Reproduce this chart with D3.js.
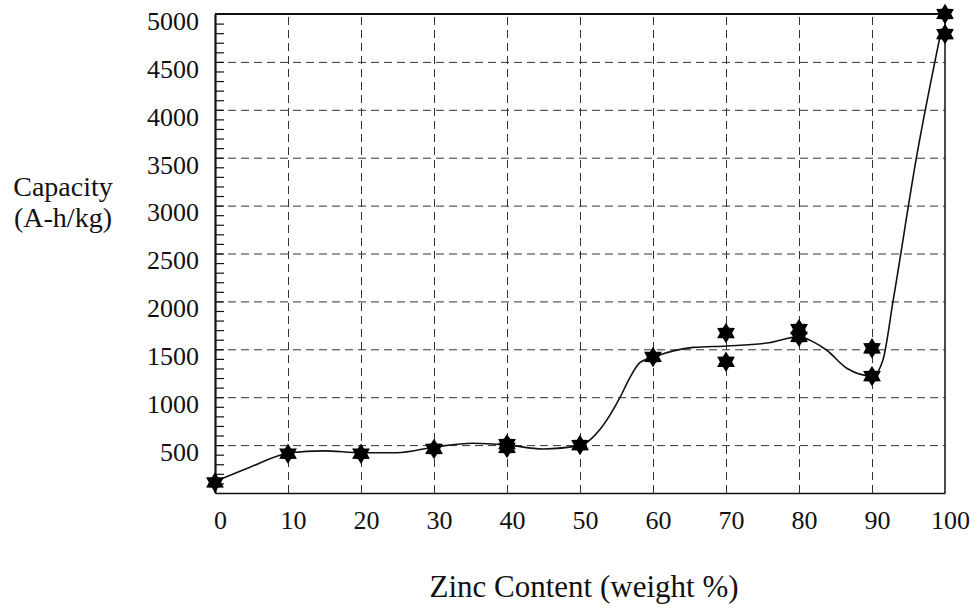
<!DOCTYPE html>
<html>
<head>
<meta charset="utf-8">
<script src="https://cdn.jsdelivr.net/npm/d3@7"></script>
<style>
  body { margin: 0; background: #fff; }
  text { font-family: "Liberation Serif", "Times New Roman", serif; fill: #111; }
</style>
</head>
<body>
<div class="chart"></div>
<script>
// measured points (several runs at some compositions)
const zinc = [0, 10, 20, 30, 40, 40, 50, 60, 70, 70, 80, 80, 90, 90, 100, 100];
const capacity = [110, 410, 410, 460, 510, 470, 500, 1420, 1670, 1370, 1710, 1630, 1510, 1220, 5000, 4790];

// hand-drawn fit line
const fitZinc = [0, 4.8, 10.3, 14.8, 20.1, 24.9, 30.1, 35.3, 40.1, 44.9, 50.1, 53, 55.5, 56.8, 58.2, 60.1, 65.5, 70.1, 75.6, 80, 81.9, 83.8, 86.6, 90.1, 91.5, 92.9, 96.2, 99.3];
const fitCapacity = [120, 270, 420, 440, 420, 420, 480, 520, 500, 460, 500, 690, 1000, 1200, 1360, 1420, 1520, 1535, 1565, 1630, 1580, 1490, 1300, 1220, 1390, 2010, 3550, 4760];

const xTicks = [0, 10, 20, 30, 40, 50, 60, 70, 80, 90, 100];
const yTicks = [500, 1000, 1500, 2000, 2500, 3000, 3500, 4000, 4500, 5000];

const margin = { top: 14, right: 26, bottom: 118, left: 215 };
const width = 971 - margin.left - margin.right;
const height = 611 - margin.top - margin.bottom;

const root = d3.select('.chart')
  .append('svg')
  .attr('width', 971)
  .attr('height', 611);

const svg = root.append('g')
  .attr('transform', `translate(${margin.left}, ${margin.top})`);

const xScale = d3.scaleLinear().domain([0, 100]).range([0, width]);
const yScale = d3.scaleLinear().domain([0, 5000]).range([height, 0]);

// dashed grid
svg.append('g')
  .attr('class', 'grid')
  .call(d3.axisLeft(yScale).tickValues(yTicks.slice(0, -1)).tickSize(-width).tickFormat(''))
  .call(g => g.select('.domain').remove());
svg.append('g')
  .attr('class', 'grid')
  .attr('transform', `translate(0, ${height})`)
  .call(d3.axisBottom(xScale).tickValues(xTicks.slice(1, -1)).tickSize(height).tickFormat(''))
  .call(g => g.select('.domain').remove())
  .selectAll('line').attr('y2', -height);
svg.selectAll('.grid line')
  .attr('stroke', '#333')
  .attr('stroke-width', 1)
  .attr('stroke-dasharray', '8,5');

// minor ticks on the left axis, pointing in
svg.append('g')
  .call(d3.axisRight(yScale).tickValues(d3.range(100, 5000, 100)).tickSize(9).tickFormat(''))
  .call(g => g.select('.domain').remove())
  .selectAll('line').attr('stroke', '#111').attr('stroke-width', 1.2);

// frame
svg.append('line').attr('x1', 0).attr('x2', width).attr('y1', 0).attr('y2', 0)
  .attr('stroke', '#111').attr('stroke-width', 2.2);
svg.append('line').attr('x1', width).attr('x2', width).attr('y1', 0).attr('y2', height)
  .attr('stroke', '#111').attr('stroke-width', 1.5);

const yAxis = d3.axisLeft(yScale).tickValues(yTicks).tickSize(0).tickPadding(16).tickFormat(d3.format('d'));
svg.append('g')
  .call(yAxis)
  .call(g => g.select('.domain').attr('stroke', '#111').attr('stroke-width', 2.2))
  .selectAll('text')
  .attr('y', 7)
  .style('font-size', '26px')
  .style('font-family', '"Liberation Serif", serif');

const xAxis = d3.axisBottom(xScale).tickValues(xTicks).tickSize(0).tickPadding(18).tickFormat(d3.format('d'));
svg.append('g')
  .attr('transform', `translate(0, ${height})`)
  .call(xAxis)
  .call(g => g.select('.domain').attr('stroke', '#111').attr('stroke-width', 1.6))
  .selectAll('text')
  .attr('x', 5)
  .style('font-size', '26px')
  .style('font-family', '"Liberation Serif", serif');

// fit curve
const line = d3.line()
  .x((d, i) => xScale(fitZinc[i]))
  .y(d => yScale(d))
  .curve(d3.curveMonotoneX);
svg.append('path')
  .datum(fitCapacity)
  .attr('d', line)
  .attr('fill', 'none')
  .attr('stroke', '#111')
  .attr('stroke-width', 1.6);

// six pointed star marker
const hexagram = {
  draw(context, size) {
    const R = Math.sqrt(size) / 2;
    const r = R * 0.6;
    for (let i = 0; i < 12; i++) {
      const a = -Math.PI / 2 + i * Math.PI / 6;
      const rad = i % 2 ? r : R;
      if (i === 0) context.moveTo(rad * Math.cos(a), rad * Math.sin(a));
      else context.lineTo(rad * Math.cos(a), rad * Math.sin(a));
    }
    context.closePath();
  }
};

svg.selectAll('.star')
  .data(capacity)
  .enter()
  .append('path')
  .attr('class', 'star')
  .attr('transform', (d, i) => `translate(${xScale(zinc[i])}, ${yScale(d)})`)
  .attr('d', d3.symbol().type(hexagram).size(420))
  .attr('fill', '#000');

// axis titles
root.append('text')
  .attr('x', 63).attr('y', 196)
  .attr('text-anchor', 'middle')
  .style('font-size', '28px')
  .text('Capacity');
root.append('text')
  .attr('x', 63).attr('y', 227)
  .attr('text-anchor', 'middle')
  .style('font-size', '28px')
  .text('(A-h/kg)');
root.append('text')
  .attr('x', 584).attr('y', 597)
  .attr('text-anchor', 'middle')
  .style('font-size', '31px')
  .text('Zinc Content (weight %)');
</script>
</body>
</html>
